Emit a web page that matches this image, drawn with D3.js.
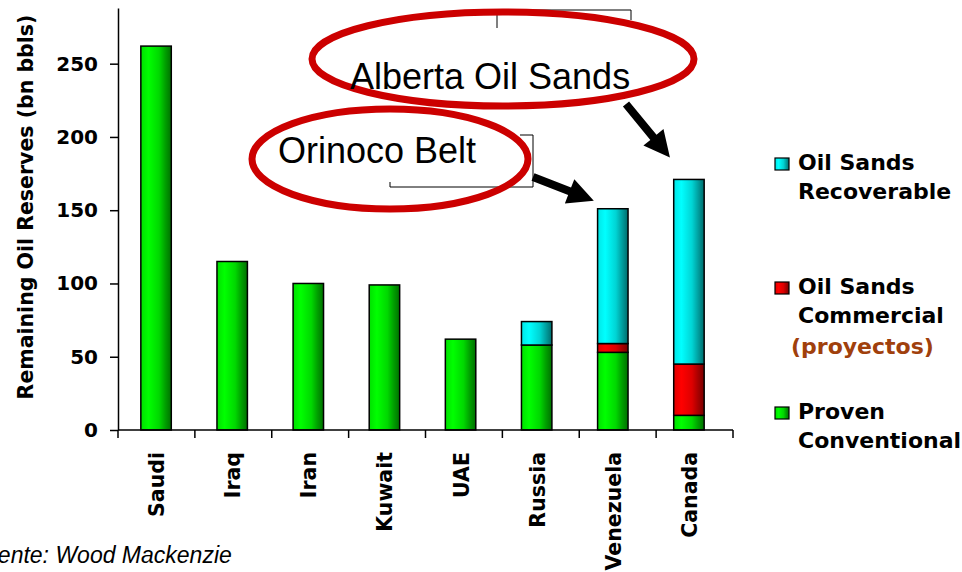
<!DOCTYPE html>
<html>
<head>
<meta charset="utf-8">
<script src="https://cdn.jsdelivr.net/npm/d3@7"></script>
<style>
  html, body { margin: 0; padding: 0; background: #fff; }
  svg { display: block; }
  .bold { font-family: "DejaVu Sans", Verdana, sans-serif; font-weight: bold; }
  .callout { font-family: "Liberation Sans", Arial, sans-serif; font-size: 36px; fill: #000; }
  .source { font-family: "Liberation Sans", Arial, sans-serif; font-style: italic; font-size: 23px; fill: #000; }
</style>
</head>
<body>
<svg id="chart" width="962" height="572"></svg>
<script>
// Remaining oil reserves by country (bn bbls), stacked by reserve type
const countries = ["Saudi", "Iraq", "Iran", "Kuwait", "UAE", "Russia", "Venezuela", "Canada"];
const provenConventional  = [262, 115, 100, 99, 62, 58, 53, 10];
const oilSandsCommercial  = [0, 0, 0, 0, 0, 0, 6, 35];
const oilSandsRecoverable = [0, 0, 0, 0, 0, 16, 92, 126];
const yTicks = [0, 50, 100, 150, 200, 250];
const seriesKeys = ["proven", "commercial", "recoverable"];

const svg = d3.select("#chart");
const plot = { left: 118, right: 733, top: 8, bottom: 430 };

const rows = countries.map((c, i) => ({
  country: c,
  proven: provenConventional[i],
  commercial: oilSandsCommercial[i],
  recoverable: oilSandsRecoverable[i]
}));

// Category axis bands (tick boundaries) and bar placement
const xAxisBand = d3.scaleBand().domain(countries).range([plot.left, plot.right]);
const x = d3.scaleBand().domain(countries)
  .range([plot.left, plot.right - 6]).paddingInner(0.6).paddingOuter(0.3);
const y = d3.scaleLinear().domain([0, 288]).range([plot.bottom, plot.top]);

// Horizontal shading gradients: bright left edge, darker right edge
const defs = svg.append("defs");
const gradSpecs = {
  proven:      [["0%", "#00e000"], ["25%", "#00ff00"], ["60%", "#00d800"], ["80%", "#00a000"], ["100%", "#007000"]],
  commercial:  [["0%", "#e00000"], ["25%", "#ff0000"], ["60%", "#dd0000"], ["80%", "#a80000"], ["100%", "#780000"]],
  recoverable: [["0%", "#00e6e6"], ["25%", "#00ffff"], ["60%", "#00d4d4"], ["80%", "#00a0a0"], ["100%", "#006c6c"]]
};
Object.entries(gradSpecs).forEach(([k, stops]) => {
  const g = defs.append("linearGradient").attr("id", "grad-" + k)
    .attr("x1", "0%").attr("x2", "100%").attr("y1", "0%").attr("y2", "0%");
  stops.forEach(([o, c]) => g.append("stop").attr("offset", o).attr("stop-color", c));
});

// Stacked bars
const stacked = d3.stack().keys(seriesKeys)(rows);
svg.append("g").selectAll("g").data(stacked).join("g")
  .attr("fill", d => `url(#grad-${d.key})`)
  .selectAll("rect")
  .data(d => d.filter(s => s[1] - s[0] > 0))
  .join("rect")
  .attr("x", d => x(d.data.country))
  .attr("width", x.bandwidth())
  .attr("y", d => y(d[1]))
  .attr("height", d => y(d[0]) - y(d[1]))
  .attr("stroke", "#000")
  .attr("stroke-width", 1.5);

// Y axis
const yAxis = svg.append("g").attr("transform", `translate(${plot.left},0)`)
  .call(d3.axisLeft(y).tickValues(yTicks).tickSize(8).tickPadding(12).tickSizeOuter(0));
yAxis.select(".domain").attr("stroke-width", 1.5);
yAxis.selectAll(".tick line").attr("stroke-width", 1.5);
yAxis.selectAll(".tick text").attr("class", "bold").attr("font-size", 20).attr("fill", "#000");

// X axis: ticks at category boundaries
const boundaries = countries.map(c => xAxisBand(c)).concat([plot.right]);
const xAxis = svg.append("g");
xAxis.append("line").attr("x1", plot.left).attr("x2", plot.right)
  .attr("y1", y(0)).attr("y2", y(0)).attr("stroke", "#000").attr("stroke-width", 1.5);
xAxis.selectAll("line.tick").data(boundaries).join("line").attr("class", "tick")
  .attr("x1", d => d).attr("x2", d => d).attr("y1", y(0)).attr("y2", y(0) + 8)
  .attr("stroke", "#000").attr("stroke-width", 1.5);
xAxis.selectAll("text").data(countries).join("text")
  .attr("class", "bold").attr("font-size", 20.5).attr("text-anchor", "end")
  .attr("transform", d => `translate(${x(d) + x.bandwidth() / 2 + 8},${y(0) + 22}) rotate(-90)`)
  .text(d => d);

// Y axis title
svg.append("text").attr("class", "bold").attr("font-size", 20.5)
  .attr("text-anchor", "middle")
  .attr("transform", "translate(33,207) rotate(-90)")
  .text("Remaining Oil Reserves (bn bbls)");

// Legend
const legendItems = [
  { key: "recoverable", lines: ["Oil Sands", "Recoverable"], y: 170 },
  { key: "commercial", lines: ["Oil Sands", "Commercial"], y: 294, note: "(proyectos)" },
  { key: "proven", lines: ["Proven", "Conventional"], y: 419 }
];
const legend = svg.append("g");
legendItems.forEach(it => {
  legend.append("rect").attr("x", 775).attr("y", it.y - 12).attr("width", 14).attr("height", 12)
    .attr("fill", `url(#grad-${it.key})`).attr("stroke", "#000").attr("stroke-width", 1.2);
  it.lines.forEach((t, i) => legend.append("text").attr("class", "bold").attr("font-size", 22)
    .attr("x", 798).attr("y", it.y + i * 29).text(t));
  if (it.note) legend.append("text").attr("class", "bold").attr("font-size", 22)
    .attr("fill", "#a0400c").attr("x", 791).attr("y", it.y + 60).text(it.note);
});

// Source line
svg.append("text").attr("class", "source").attr("x", -29).attr("y", 563)
  .text("Fuente: Wood Mackenzie");

// Callout annotations
const ann = svg.append("g");
ann.append("path").attr("d", "M497,28V10H631V20").attr("fill", "none").attr("stroke", "#000").attr("stroke-width", 1);
ann.append("path").attr("d", "M390,182V187H533V135H520").attr("fill", "none").attr("stroke", "#000").attr("stroke-width", 1);

ann.append("ellipse").attr("cx", 503).attr("cy", 59).attr("rx", 191).attr("ry", 47)
  .attr("fill", "none").attr("stroke", "#cc0000").attr("stroke-width", 7);
ann.append("ellipse").attr("cx", 390).attr("cy", 159).attr("rx", 138).attr("ry", 50)
  .attr("fill", "none").attr("stroke", "#cc0000").attr("stroke-width", 7);

ann.append("text").attr("class", "callout").attr("x", 350).attr("y", 89).text("Alberta Oil Sands");
ann.append("text").attr("class", "callout").attr("x", 278).attr("y", 163).text("Orinoco Belt");

// Arrows pointing at the oil-sands bars
function arrowPath(x1, y1, x2, y2, shaft, headLen, headW) {
  const dx = x2 - x1, dy = y2 - y1, L = Math.hypot(dx, dy);
  const ux = dx / L, uy = dy / L, px = -uy, py = ux;
  const bx = x2 - ux * headLen, by = y2 - uy * headLen;
  const pts = [
    [x1 + px * shaft / 2, y1 + py * shaft / 2],
    [bx + px * shaft / 2, by + py * shaft / 2],
    [bx + px * headW / 2, by + py * headW / 2],
    [x2, y2],
    [bx - px * headW / 2, by - py * headW / 2],
    [bx - px * shaft / 2, by - py * shaft / 2],
    [x1 - px * shaft / 2, y1 - py * shaft / 2]
  ];
  return "M" + pts.map(p => p.join(",")).join("L") + "Z";
}
const total = i => provenConventional[i] + oilSandsCommercial[i] + oilSandsRecoverable[i];
const iCan = countries.indexOf("Canada"), iVen = countries.indexOf("Venezuela");
const canTip = [x("Canada") + x.bandwidth() / 2 - 19, y(total(iCan)) - 22];
const venTip = [x("Venezuela") + x.bandwidth() / 2 - 19, y(total(iVen)) - 8];
ann.append("path").attr("d", arrowPath(626, 104, canTip[0], canTip[1], 8, 26, 26)).attr("fill", "#000");
ann.append("path").attr("d", arrowPath(533, 177, venTip[0], venTip[1], 8, 26, 26)).attr("fill", "#000");
</script>
</body>
</html>
